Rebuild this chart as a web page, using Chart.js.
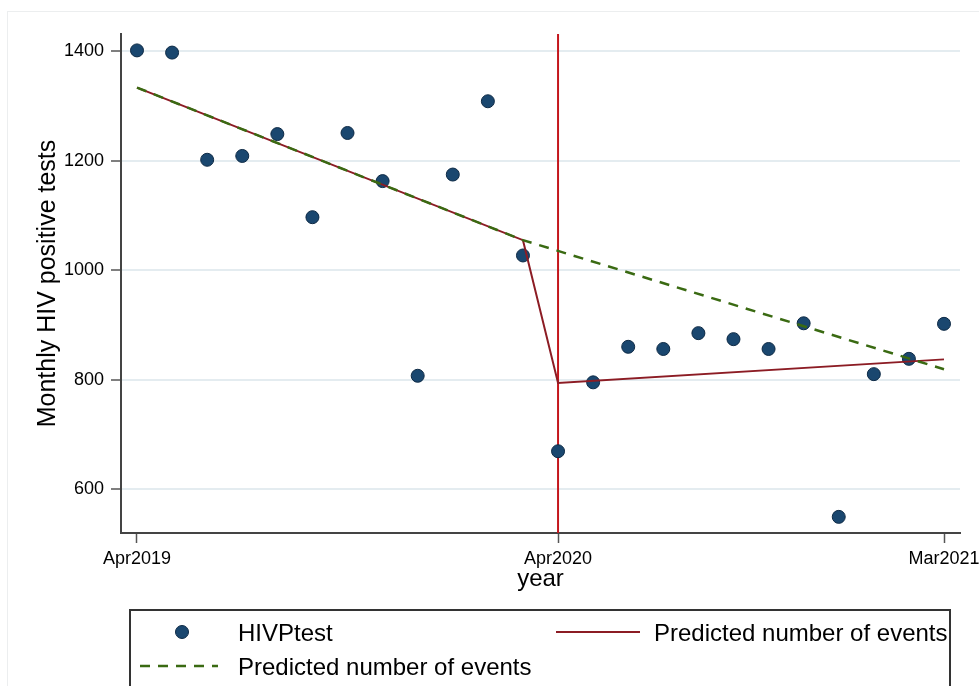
<!DOCTYPE html>
<html>
<head>
<meta charset="utf-8">
<script src="https://cdn.jsdelivr.net/npm/chart.js@4"></script>
<style>
  html, body { margin: 0; padding: 0; background: #fff; }
  #wrap { position: relative; width: 979px; height: 686px; overflow: hidden; }
  #frame { position: absolute; left: 7px; top: 11px; width: 1000px; height: 1000px;
           border-left: 1px solid #eceeef; border-top: 1px solid #eceeef; }
  #chart { position: absolute; left: 0; top: 0; }
</style>
</head>
<body>
<div id="wrap">
  <div id="frame"></div>
  <canvas id="chart"></canvas>
</div>
<script>
// month labels, index 0 = Apr2019
const months = ['Apr2019','May2019','Jun2019','Jul2019','Aug2019','Sep2019','Oct2019','Nov2019','Dec2019',
  'Jan2020','Feb2020','Mar2020','Apr2020','May2020','Jun2020','Jul2020','Aug2020','Sep2020','Oct2020','Nov2020','Dec2020',
  'Jan2021','Feb2021','Mar2021'];

// observed monthly HIV positive tests
const hivTests = [1402, 1398, 1202, 1209, 1249, 1097, 1251, 1163, 807, 1175, 1309, 1027,
  669, 795, 860, 856, 885, 874, 856, 903, 549, 810, 838, 902];

// segmented regression fit (solid red)
const fitMonth = [0, 11, 12, 23];
const fitValue = [1334, 1055, 794, 837];

// counterfactual (dashed green)
const cfMonth = [0, 11, 23];
const cfValue = [1334, 1055, 819];

const interventionMonth = 12;
const xTickMonths = [0, 12, 23];
const yTickValues = [600, 800, 1000, 1200, 1400];

const FONT = "'Liberation Sans', Arial, sans-serif";
const navy = '#1a476f';
const maroon = '#8c1c24';
const green = '#3a6a12';

// vertical line at the interruption
const xLine = {
  id: 'xLine',
  beforeDatasetsDraw(chart) {
    const { ctx, chartArea, scales } = chart;
    const px = scales.x.getPixelForValue(interventionMonth);
    ctx.save();
    ctx.strokeStyle = '#c4161c';
    ctx.lineWidth = 2;
    ctx.beginPath();
    ctx.moveTo(px, chartArea.top);
    ctx.lineTo(px, chartArea.bottom);
    ctx.stroke();
    ctx.restore();
  }
};

// Stata style legend box under the plot
const legendBox = {
  id: 'legendBox',
  afterDraw(chart) {
    const ctx = chart.ctx;
    const ds = chart.data.datasets;
    ctx.save();
    ctx.strokeStyle = '#333';
    ctx.lineWidth = 2;
    ctx.strokeRect(130, 610, 820, 100);

    ctx.font = '24px ' + FONT;
    ctx.fillStyle = '#000';
    ctx.textBaseline = 'alphabetic';

    // HIVPtest marker
    ctx.beginPath();
    ctx.arc(182, 632, 6.5, 0, Math.PI * 2);
    ctx.fillStyle = ds[0].backgroundColor;
    ctx.fill();
    ctx.lineWidth = 1;
    ctx.strokeStyle = ds[0].borderColor;
    ctx.stroke();
    ctx.fillStyle = '#000';
    ctx.fillText(ds[0].label, 238, 641);

    // fitted line
    ctx.beginPath();
    ctx.strokeStyle = ds[1].borderColor;
    ctx.lineWidth = 2;
    ctx.moveTo(556, 632);
    ctx.lineTo(640, 632);
    ctx.stroke();
    ctx.fillText(ds[1].label, 654, 641);

    // counterfactual dashed
    ctx.beginPath();
    ctx.strokeStyle = ds[2].borderColor;
    ctx.lineWidth = 2.5;
    ctx.setLineDash(ds[2].borderDash);
    ctx.moveTo(140, 666);
    ctx.lineTo(218, 666);
    ctx.stroke();
    ctx.setLineDash([]);
    ctx.fillText(ds[2].label, 238, 675);
    ctx.restore();
  }
};

new Chart(document.getElementById('chart'), {
  type: 'scatter',
  data: {
    datasets: [
      {
        label: 'HIVPtest',
        data: hivTests.map((v, i) => ({ x: i, y: v })),
        backgroundColor: navy,
        borderColor: '#0e2a45',
        borderWidth: 1,
        pointRadius: 6.5,
        order: 3
      },
      {
        label: 'Predicted number of events',
        data: fitMonth.map((m, i) => ({ x: m, y: fitValue[i] })),
        showLine: true,
        borderColor: maroon,
        borderWidth: 2,
        pointRadius: 0,
        order: 2
      },
      {
        label: 'Predicted number of events',
        data: cfMonth.map((m, i) => ({ x: m, y: cfValue[i] })),
        showLine: true,
        borderColor: green,
        borderWidth: 2.5,
        borderDash: [10, 8],
        pointRadius: 0,
        order: 1
      }
    ]
  },
  options: {
    responsive: true,
    maintainAspectRatio: false,
    animation: false,
    layout: { padding: { top: 34, right: 19, bottom: 83, left: 0 } },
    plugins: {
      legend: { display: false },
      tooltip: { enabled: false }
    },
    scales: {
      x: {
        type: 'linear',
        min: -0.456,
        max: 23.456,
        afterBuildTicks: s => { s.ticks = xTickMonths.map(v => ({ value: v })); },
        afterFit: s => { s.height = 70; s.paddingLeft = 0; s.paddingRight = 0; },
        ticks: {
          callback: v => months[v],
          font: { family: FONT, size: 18 },
          color: '#000',
          padding: 5,
          maxRotation: 0,
          autoSkip: false
        },
        grid: { drawOnChartArea: false, tickLength: 10, tickColor: '#555', tickWidth: 1.5 },
        border: { color: '#444', width: 2 },
        title: {
          display: true, text: 'year', color: '#000',
          font: { family: FONT, size: 24 },
          padding: { top: 0, bottom: 9 }
        }
      },
      y: {
        min: 519.5,
        max: 1432,
        afterBuildTicks: s => { s.ticks = yTickValues.map(v => ({ value: v })); },
        afterFit: s => { s.width = 121; s.paddingTop = 0; s.paddingBottom = 0; },
        ticks: {
          callback: v => String(v),
          font: { family: FONT, size: 18 },
          color: '#000',
          padding: 7
        },
        grid: { color: '#e4ecf0', lineWidth: 2, tickLength: 10, tickColor: '#555', tickWidth: 1.5 },
        border: { color: '#444', width: 2 },
        title: {
          display: true, text: 'Monthly HIV positive tests', color: '#000',
          font: { family: FONT, size: 25 },
          padding: { top: 33, bottom: 0 }
        }
      }
    }
  },
  plugins: [xLine, legendBox]
});
</script>
</body>
</html>
